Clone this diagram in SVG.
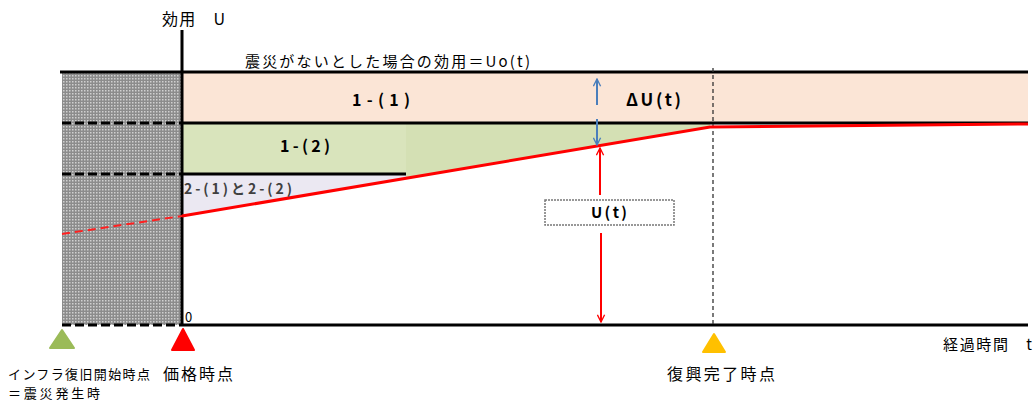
<svg xmlns="http://www.w3.org/2000/svg" width="1036" height="404" viewBox="0 0 1036 404">
<defs>
<pattern id="dots" width="3" height="3" patternUnits="userSpaceOnUse">
<rect width="3" height="3" fill="#8c8c8c"/>
<rect x="0" y="0" width="1.5" height="1.5" fill="#d0d0d0"/>
</pattern>
<marker id="arrRed" viewBox="0 0 10 10" refX="9" refY="5" markerWidth="9" markerHeight="9" markerUnits="userSpaceOnUse" orient="auto">
<path d="M1,1 L9,5 L1,9" fill="none" stroke="#ff0000" stroke-width="1.5"/>
</marker>
<marker id="arrBlue" viewBox="0 0 10 10" refX="9" refY="5" markerWidth="9" markerHeight="9" markerUnits="userSpaceOnUse" orient="auto">
<path d="M1,1 L9,5 L1,9" fill="none" stroke="#4a7ebb" stroke-width="1.5"/>
</marker>
</defs>
<style>
.jp{font-family:"Noto Sans CJK JP","Noto Sans",sans-serif;fill:#000}
.b{font-family:"Noto Sans CJK JP","Noto Sans",sans-serif;font-weight:bold;fill:#000}
.ax{stroke:#000;stroke-width:3;fill:none}
.dash{stroke:#000;stroke-width:3;stroke-dasharray:9,4;fill:none}
</style>
<g id="regions">
<rect id="hatch" x="62" y="72" width="120" height="253" fill="url(#dots)"/>
<rect id="peach" x="182" y="72" width="846" height="51" fill="#fbe5d6"/>
<rect id="green-rect" x="182" y="123" width="224" height="51" fill="#d9e4bc"/>
<polygon id="green-tri" points="406,123 710,123 710,127 406,178" fill="#d4e0b4"/>
<polygon id="lavender" points="182,174 406,174 406,178 182,216" fill="#ebe8f2"/>
</g>
<g id="connectors">
<line class="ax" x1="182" y1="30" x2="182" y2="326"/>
<line class="ax" x1="60" y1="72" x2="1028" y2="72"/>
<line class="ax" x1="182" y1="123" x2="1028" y2="123"/>
<line class="dash" x1="62" y1="123" x2="182" y2="123"/>
<line class="ax" x1="182" y1="174" x2="406" y2="174"/>
<line class="dash" x1="62" y1="174" x2="182" y2="174"/>
<line class="ax" x1="182" y1="325" x2="1028" y2="325"/>
<line class="dash" x1="62" y1="325" x2="182" y2="325"/>
<line x1="713" y1="68" x2="713" y2="325" stroke="#333" stroke-width="1.3" stroke-dasharray="4,3"/>
<polyline points="182,216 710,127 1028,124" fill="none" stroke="#ff0000" stroke-width="3"/>
<line x1="62" y1="234" x2="182" y2="216" stroke="#ff2020" stroke-width="2" stroke-dasharray="8,5"/>
<line x1="597" y1="105" x2="597" y2="79" stroke="#4a7ebb" stroke-width="2" marker-end="url(#arrBlue)"/>
<line x1="597" y1="119" x2="597" y2="145" stroke="#4a7ebb" stroke-width="2" marker-end="url(#arrBlue)"/>
<line x1="600" y1="195" x2="600" y2="148" stroke="#ff0000" stroke-width="2" marker-end="url(#arrRed)"/>
<line x1="601" y1="233" x2="601" y2="322" stroke="#ff0000" stroke-width="2" marker-end="url(#arrRed)"/>
</g>
<g id="ut-box">
<rect x="545" y="200" width="129" height="25" fill="#fff" stroke="#777" stroke-width="1.5" stroke-dasharray="2,1"/>
<text class="b" x="591" y="218" font-size="15" textLength="36" lengthAdjust="spacing">U(t)</text>
</g>
<g id="labels">
<text class="jp" x="162" y="25" font-size="16" textLength="63" lengthAdjust="spacing">効用　U</text>
<text class="jp" x="245" y="67" font-size="15" textLength="285" lengthAdjust="spacing">震災がないとした場合の効用＝Uo(t)</text>
<text class="b" x="352" y="106" font-size="16" textLength="58" lengthAdjust="spacing">1-(1)</text>
<text class="b" x="626" y="106" font-size="17" textLength="55" lengthAdjust="spacing">ΔU(t)</text>
<text class="b" x="280" y="152" font-size="16" textLength="50" lengthAdjust="spacing">1-(2)</text>
<text class="b" x="184" y="194" font-size="14" textLength="108" lengthAdjust="spacing" style="fill:#404040">2-(1)と2-(2)</text>
<text class="jp" x="185" y="322" font-size="13">0</text>
<text class="jp" x="943" y="350" font-size="15" textLength="89" lengthAdjust="spacing">経過時間　t</text>
</g>
<g id="marker-infra">
<polygon points="62,330 74,348 50,348" fill="#9bbb59" stroke="#9bbb59" stroke-linejoin="round" stroke-width="2"/>
<text class="jp" x="8" y="379" font-size="13" textLength="142" lengthAdjust="spacing">インフラ復旧開始時点</text>
<text class="jp" x="8" y="398" font-size="13" textLength="92" lengthAdjust="spacing">＝震災発生時</text>
</g>
<g id="marker-price">
<polygon points="183,329 194,350 172,350" fill="#ff0000" stroke="#ff0000" stroke-linejoin="round" stroke-width="2"/>
<text class="jp" x="163" y="380" font-size="16" textLength="70" lengthAdjust="spacing">価格時点</text>
</g>
<g id="marker-recovery">
<polygon points="714,334 725,352 703,352" fill="#ffc000" stroke="#ffc000" stroke-linejoin="round" stroke-width="2"/>
<text class="jp" x="667" y="380" font-size="16" textLength="108" lengthAdjust="spacing">復興完了時点</text>
</g>
</svg>
